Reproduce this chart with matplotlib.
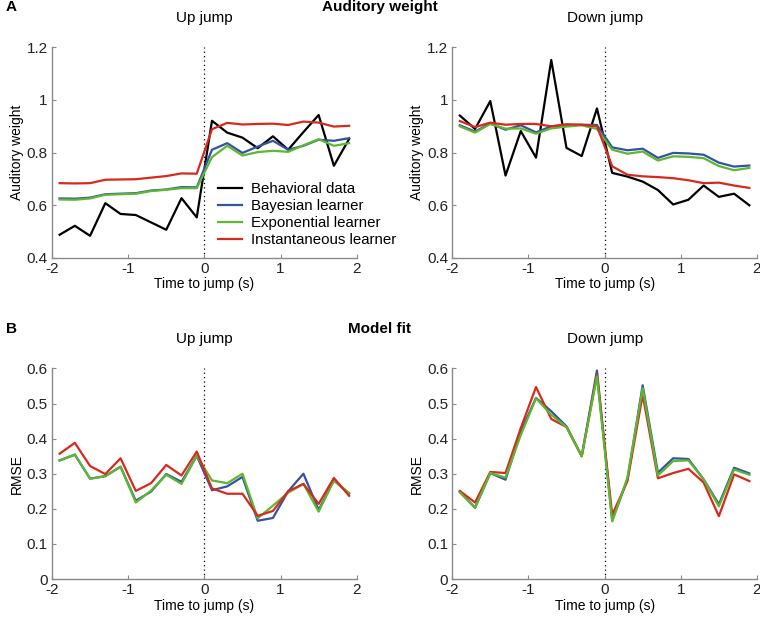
import numpy as np
import matplotlib
matplotlib.use("Agg")
import matplotlib.pyplot as plt

plt.rcParams['font.family'] = ['Liberation Sans', 'DejaVu Sans']

t = [-1.9, -1.7, -1.5, -1.3, -1.1, -0.9, -0.7, -0.5, -0.3, -0.1,
     0.1, 0.3, 0.5, 0.7, 0.9, 1.1, 1.3, 1.5, 1.7, 1.9]

# Auditory weight, up jump
up_beh = [0.488, 0.522, 0.484, 0.608, 0.567, 0.563, 0.535, 0.507, 0.627, 0.554,
          0.921, 0.876, 0.857, 0.817, 0.862, 0.811, 0.878, 0.943, 0.750, 0.852]
up_bay = [0.626, 0.625, 0.629, 0.642, 0.644, 0.646, 0.656, 0.660, 0.669, 0.668,
          0.811, 0.836, 0.799, 0.823, 0.845, 0.811, 0.826, 0.849, 0.845, 0.855]
up_exp = [0.622, 0.621, 0.626, 0.640, 0.642, 0.644, 0.654, 0.659, 0.665, 0.665,
          0.783, 0.826, 0.789, 0.802, 0.807, 0.803, 0.828, 0.851, 0.826, 0.836]
up_ins = [0.684, 0.683, 0.684, 0.697, 0.698, 0.699, 0.705, 0.711, 0.721, 0.720,
          0.889, 0.913, 0.907, 0.909, 0.910, 0.905, 0.918, 0.914, 0.899, 0.902]

# Auditory weight, down jump
dn_beh = [0.941, 0.890, 0.996, 0.713, 0.882, 0.781, 1.152, 0.818, 0.787, 0.968,
          0.723, 0.709, 0.690, 0.658, 0.603, 0.621, 0.675, 0.632, 0.644, 0.600]
dn_bay = [0.904, 0.880, 0.911, 0.887, 0.904, 0.877, 0.900, 0.904, 0.906, 0.905,
          0.820, 0.809, 0.815, 0.780, 0.799, 0.797, 0.792, 0.762, 0.747, 0.751]
dn_exp = [0.900, 0.876, 0.909, 0.891, 0.892, 0.872, 0.892, 0.899, 0.904, 0.890,
          0.811, 0.796, 0.804, 0.770, 0.786, 0.784, 0.779, 0.749, 0.733, 0.742]
dn_ins = [0.920, 0.897, 0.914, 0.906, 0.909, 0.909, 0.900, 0.908, 0.906, 0.900,
          0.748, 0.716, 0.710, 0.707, 0.703, 0.695, 0.684, 0.686, 0.675, 0.666]

# RMSE, up jump
rm_up_bay = [0.338, 0.354, 0.286, 0.293, 0.320, 0.223, 0.249, 0.299, 0.277, 0.351,
             0.253, 0.264, 0.291, 0.166, 0.174, 0.250, 0.300, 0.197, 0.281, 0.243]
rm_up_exp = [0.338, 0.355, 0.286, 0.293, 0.320, 0.218, 0.252, 0.297, 0.271, 0.351,
             0.281, 0.273, 0.300, 0.173, 0.209, 0.246, 0.271, 0.192, 0.281, 0.245]
rm_up_ins = [0.357, 0.388, 0.322, 0.299, 0.344, 0.251, 0.273, 0.325, 0.295, 0.363,
             0.258, 0.243, 0.243, 0.180, 0.194, 0.250, 0.271, 0.214, 0.288, 0.237]

# RMSE, down jump
rm_dn_bay = [0.249, 0.203, 0.302, 0.283, 0.420, 0.516, 0.478, 0.435, 0.350, 0.594,
             0.167, 0.284, 0.552, 0.303, 0.344, 0.342, 0.284, 0.213, 0.317, 0.301]
rm_dn_exp = [0.247, 0.203, 0.302, 0.289, 0.410, 0.515, 0.468, 0.433, 0.350, 0.577,
             0.164, 0.289, 0.544, 0.295, 0.336, 0.338, 0.284, 0.207, 0.312, 0.297]
rm_dn_ins = [0.251, 0.218, 0.305, 0.302, 0.430, 0.547, 0.456, 0.433, 0.350, 0.582,
             0.183, 0.279, 0.525, 0.287, 0.302, 0.314, 0.275, 0.179, 0.298, 0.279]

labels = ['Behavioral data', 'Bayesian learner', 'Exponential learner', 'Instantaneous learner']
C_BEH, C_BAY, C_EXP, C_INS = '#000000', '#3452a4', '#5cb82e', '#d9291c'

fig = plt.figure(figsize=(7.6, 6.23), dpi=100)

W = 0.401
H = 0.338
axes_pos = {
    'tl': [0.0684, 0.586, W, H],
    'tr': [0.595, 0.586, W, H],
    'bl': [0.0684, 0.0706, W, H],
    'br': [0.595, 0.0706, W, H],
}

def style(ax, ylim, yticks, yticklabels, ylabel, title):
    ax.set_xlim(-2, 2)
    ax.set_ylim(*ylim)
    ax.set_xticks([-2, -1, 0, 1, 2])
    ax.set_xticklabels(['-2', '-1', '0', '1', '2'])
    ax.set_yticks(yticks)
    ax.set_yticklabels(yticklabels)
    for s in ['top', 'right']:
        ax.spines[s].set_visible(False)
    for s in ['left', 'bottom']:
        ax.spines[s].set_color('#8a8a8a')
        ax.spines[s].set_linewidth(1.0)
    ax.tick_params(direction='in', length=3, width=0.8, color='#8a8a8a',
                   labelsize=11, labelcolor='#222222', pad=3)
    ax.set_xlabel('Time to jump (s)', fontsize=10, labelpad=1)
    ax.set_ylabel(ylabel, fontsize=10, labelpad=2)
    ax.set_title(title, fontsize=11, pad=18)
    ax.axvline(0, color='black', linestyle=(0, (1, 2.5)), linewidth=0.9, zorder=1)

lw = 1.6
# Top-left
ax = fig.add_axes(axes_pos['tl'])
h1, = ax.plot(t, up_beh, color=C_BEH, lw=lw)
h2, = ax.plot(t, up_bay, color=C_BAY, lw=lw)
h3, = ax.plot(t, up_exp, color=C_EXP, lw=lw)
h4, = ax.plot(t, up_ins, color=C_INS, lw=lw)
style(ax, (0.4, 1.2), [0.4, 0.6, 0.8, 1.0, 1.2], ['0.4', '0.6', '0.8', '1', '1.2'],
      'Auditory weight', 'Up jump')
ax.legend([h1, h2, h3, h4], labels, loc='lower left', bbox_to_anchor=(0.51, 0.0),
          frameon=False, fontsize=10.8, handlelength=1.6, handletextpad=0.6,
          labelspacing=0.2, borderpad=0.2)

# Top-right
ax = fig.add_axes(axes_pos['tr'])
ax.plot(t, dn_beh, color=C_BEH, lw=lw)
ax.plot(t, dn_bay, color=C_BAY, lw=lw)
ax.plot(t, dn_exp, color=C_EXP, lw=lw)
ax.plot(t, dn_ins, color=C_INS, lw=lw)
style(ax, (0.4, 1.2), [0.4, 0.6, 0.8, 1.0, 1.2], ['0.4', '0.6', '0.8', '1', '1.2'],
      'Auditory weight', 'Down jump')

rm_ticks = [0, 0.1, 0.2, 0.3, 0.4, 0.5, 0.6]
rm_labels = ['0', '0.1', '0.2', '0.3', '0.4', '0.5', '0.6']
# Bottom-left
ax = fig.add_axes(axes_pos['bl'])
ax.plot(t, rm_up_bay, color=C_BAY, lw=lw)
ax.plot(t, rm_up_exp, color=C_EXP, lw=lw)
ax.plot(t, rm_up_ins, color=C_INS, lw=lw)
style(ax, (0, 0.6), rm_ticks, rm_labels, 'RMSE', 'Up jump')

# Bottom-right
ax = fig.add_axes(axes_pos['br'])
ax.plot(t, rm_dn_bay, color=C_BAY, lw=lw)
ax.plot(t, rm_dn_ins, color=C_INS, lw=lw)
ax.plot(t, rm_dn_exp, color=C_EXP, lw=lw)
style(ax, (0, 0.6), rm_ticks, rm_labels, 'RMSE', 'Down jump')

fig.text(0.008, 1.0, 'A', fontsize=11, fontweight='bold', va='top', ha='left')
fig.text(0.5, 1.0, 'Auditory weight', fontsize=11, fontweight='bold', va='top', ha='center')
fig.text(0.008, 0.483, 'B', fontsize=11, fontweight='bold', va='top', ha='left')
fig.text(0.5, 0.483, 'Model fit', fontsize=11, fontweight='bold', va='top', ha='center')

fig.savefig('out.png', dpi=100)
